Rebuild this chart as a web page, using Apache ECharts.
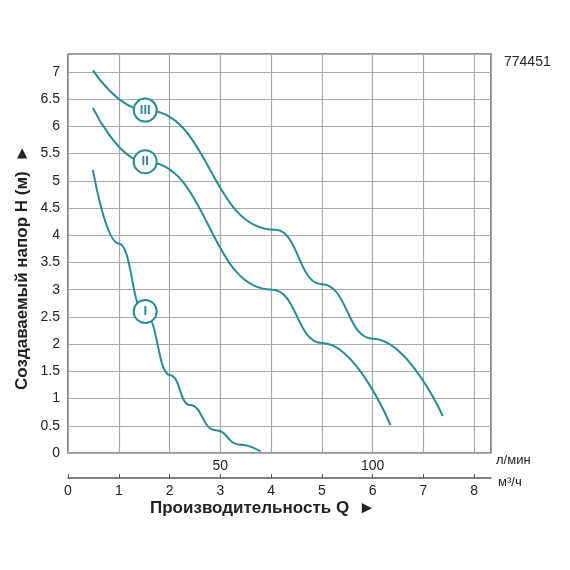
<!DOCTYPE html>
<html><head><meta charset="utf-8">
<script src="https://cdn.jsdelivr.net/npm/echarts@6/dist/echarts.min.js"></script>
<style>html,body{margin:0;padding:0;background:#fff}#c{width:570px;height:570px}</style>
</head><body><div id="c"></div>
<script>
const curveI   = [[0.49,5.2],[1.0,3.85],[1.52,2.55],[2.01,1.43],[2.4,0.88],[2.9,0.42],[3.39,0.15],[3.79,0.03]];
const curveII  = [[0.49,6.34],[1.52,5.35],[4.02,3.0],[5.0,2.02],[6.35,0.51]];
const curveIII = [[0.49,7.03],[1.52,6.3],[4.08,4.1],[5.0,3.1],[6.0,2.1],[7.38,0.68]];
const badges = [[1.52,6.3,'III'],[1.52,5.35,'II'],[1.52,2.6,'I']];
const lminTicks = {3:'50',6:'100'};
const C = '#2a8b95';
const font = 'Liberation Sans, Arial, sans-serif';
const ch = echarts.init(document.getElementById('c'));
const line = d => ({type:'line',data:d,smooth:0.5,smoothMonotone:'x',symbol:'none',lineStyle:{color:C,width:2},z:3});
ch.setOption({
  animation:false,
  grid:{left:68,right:79,top:54,bottom:117,show:true,borderColor:'#333',borderWidth:1.2},
  xAxis:[
    {type:'value',min:0,max:8.33,interval:1,position:'bottom',
     axisLine:{show:false},axisTick:{show:false},
     splitLine:{lineStyle:{color:'#aaa',width:1.2}},
     axisLabel:{margin:6,fontFamily:font,fontSize:14,color:'#222',formatter:v=>lminTicks[v]||'',showMaxLabel:false}},
    {type:'value',min:0,max:8.33,interval:1,position:'bottom',offset:25,
     axisLine:{show:true,lineStyle:{color:'#555',width:1.5}},
     axisTick:{show:true,length:4,inside:true,lineStyle:{color:'#555'}},
     splitLine:{show:false},
     axisLabel:{margin:6,fontFamily:font,fontSize:14,color:'#222',showMaxLabel:false}}
  ],
  yAxis:{type:'value',min:0,max:7.33,interval:0.5,
     axisLine:{show:false},axisTick:{show:false},
     splitLine:{lineStyle:{color:'#aaa',width:1.2}},
     axisLabel:{margin:8,fontFamily:font,fontSize:14,color:'#222',formatter:v=>v>7?'':String(v),showMaxLabel:false}},
  graphic:[
    {type:'text',left:504,top:55,style:{text:'774451',font:'14px '+font,fill:'#222'}},
    {type:'text',left:496,top:454,style:{text:'л/мин',font:'13px '+font,fill:'#222'}},
    {type:'text',left:498,top:476,style:{text:'м³/ч',font:'13px '+font,fill:'#222'}},
    {type:'text',left:150,top:500,style:{text:'Производительность Q  ►',font:'bold 17px '+font,fill:'#222'}},
    {type:'text',x:14,y:390,rotation:Math.PI/2,style:{text:'Создаваемый напор H (м)  ►',font:'bold 17px '+font,fill:'#222'}}
  ],
  series:[
    line(curveI),line(curveII),line(curveIII),
    {type:'scatter',data:badges,symbolSize:23,z:5,
     itemStyle:{color:'#fff',borderColor:C,borderWidth:2,opacity:1},
     label:{show:true,position:'inside',formatter:p=>p.data[2],color:C,fontWeight:'bold',fontSize:13,fontFamily:font}}
  ]
});
</script></body></html>
